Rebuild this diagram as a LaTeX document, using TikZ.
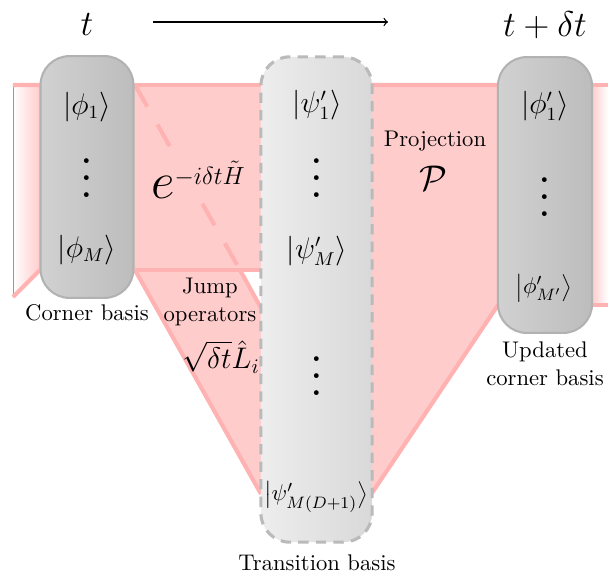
\documentclass[11pt,tikz,border=0pt]{standalone}
\usepackage{amsmath}
\usepackage{graphicx}
\newcommand{\tallvdots}{\scalebox{2}{$\vdots$}}
\begin{document}
\begin{tikzpicture}[x=0.017cm, y=-0.017cm, >=to, line join=round]
	\colorlet{band fill}{red!20}
	\colorlet{band edge}{red!30}
	\colorlet{box edge}{black!30}
	\tikzset{band/.style={fill=band fill},
	bandline/.style={draw=band edge, line width=2pt},
	cornerbox/.style={rounded corners=14pt, left color=black!18, right color=black!26, draw=box edge, line width=1pt},
	transbox/.style={rounded corners=14pt, left color=black!7, right color=black!15, draw=black!27, line width=1.5pt, dash pattern=on 5pt off 3.5pt},
	ket/.style={font=\fontsize{13.3}{16}\selectfont},
	bigket/.style={font=\normalsize},
	dots/.style={anchor=base},
	caption/.style={align=center}}
	\useasboundingbox (0,0) rectangle (608,577);
	% time
	\node[font=\LARGE] (tnow) at (87,25) {$t$};
	\node[font=\LARGE] (tnext) at (545,25) {$t+\delta t$};
	\coordinate (arrowL) at (153,22);
	\coordinate (arrowR) at (388,22);
	\draw[->, line width=0.6pt] (arrowL) -- (arrowR);
	% previous step
	\shade[left color=white, right color=band fill] (13,85) -- (40,85) -- (40,270) -- (13,297) -- cycle;
	\draw[black!40, very thin] (13,85) -- (13,297);
	\draw[bandline] (13,85) -- (40,85) (40,270) -- (13,297);
	% evolution and jumps
	\fill[band] (40,85) rectangle (261,270);
	\fill[band] (135,85) -- (261,308) -- (261,494) -- (135,270) -- cycle;
	\draw[bandline] (40,85) -- (261,85) (135,270) -- (261,270);
	\draw[bandline, dash pattern=on 12pt off 10pt] (135,85) -- (240,270);
	\draw[bandline] (240,270) -- (261,308) (135,270) -- (261,494);
	% projection
	\fill[band] (372,85) -- (498,85) -- (498,305) -- (372,493) -- cycle;
	\draw[bandline] (372,85) -- (498,85) (498,305) -- (372,493);
	% next step
	\shade[left color=band fill, right color=white] (592,85) rectangle (608,305);
	\draw[bandline] (592,85) -- (608,85) (592,305) -- (608,305);
	% bases
	\node[cornerbox, minimum width=1.58cm, minimum height=4.11cm] (corner) at (87,177) {};
	\node[transbox, minimum width=1.89cm, minimum height=8.25cm] (trans) at (316.5,299.5) {};
	\node[cornerbox, minimum width=1.6cm, minimum height=4.69cm] (updated) at (545,195) {};
	%
	\node[ket] (phione) at (87,107) {$|\phi_1\rangle$};
	\node[dots] (phidots) at (87,197) {\tallvdots};
	\node[ket] (phiM) at (87,250) {$|\phi_M\rangle$};
	\node[ket] (psione) at (317,105) {$|\psi'_1\rangle$};
	\node[dots] (psidots) at (317,197) {\tallvdots};
	\node[ket] (psiM) at (317,251) {$|\psi'_M\rangle$};
	\node[dots] (psimore) at (317,395) {\tallvdots};
	\node[bigket] (psilast) at (316,497) {$\big|\psi'_{M(D+1)}\big\rangle$};
	\node[ket] (newone) at (545,106) {$|\phi'_1\rangle$};
	\node[dots] (newdots) at (545,216) {\tallvdots};
	\node[bigket] (newlast) at (544,288) {$\big|\phi'_{M'}\big\rangle$};
	%
	\node[caption] (cornerlab) at (87,313) {Corner basis};
	\node[caption] (translab) at (317,563) {Transition basis};
	\node[caption] (updlab) at (545,364) {Updated\\corner basis};
	\node[fill=band fill, inner sep=1pt] (evol) at (198,180) {{\Huge$e$}\raisebox{7pt}{\large$-i\delta t\tilde{H}$}};
	\node[caption] (jumplab) at (210,302) {Jump\\operators};
	\node[font=\Large] (jumpop) at (221,357) {$\sqrt{\delta t}\hat{L}_i$};
	\node[caption] (projlab) at (435,141) {Projection};
	\node[font=\LARGE] (projop) at (433,178) {$\mathcal{P}$};
\end{tikzpicture}
\end{document}
